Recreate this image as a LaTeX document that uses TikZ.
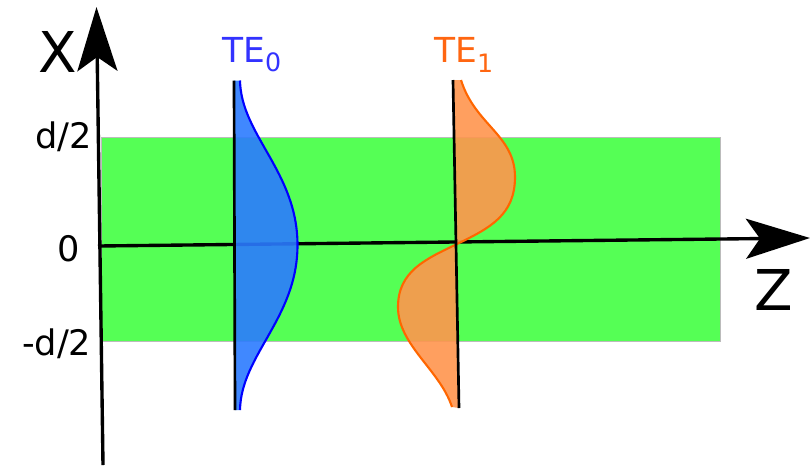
\documentclass[tikz,border=0pt]{standalone}
\usepackage{fontspec}
\setmainfont{DejaVu Sans}
\usetikzlibrary{arrows.meta}
\definecolor{core}{HTML}{55FF55}
\definecolor{coreedge}{HTML}{BBBBBB}
\definecolor{zerofill}{HTML}{2B7BFF}
\definecolor{zeroline}{HTML}{0000FF}
\definecolor{zerotext}{HTML}{3333FF}
\definecolor{onefill}{HTML}{FF954E}
\definecolor{oneline}{HTML}{FF6600}
\definecolor{onetext}{HTML}{FF6611}
\tikzset{
  axis/.style={line width=2.4pt, draw=black,
               -{Stealth[length=1.6cm, width=1.0cm, inset=0.35cm]}},
  guide/.style={line width=1.9pt, draw=black},
  slab/.style={fill=core, draw=coreedge, line width=0.4pt},
  profile/.style={line width=1.5pt, fill opacity=0.9},
  tick/.style={inner sep=0pt, font=\fontsize{25}{30}\selectfont, text=black},
  axlabel/.style={inner sep=0pt, font=\fontsize{40}{42}\selectfont, text=black},
  modelbl/.style={inner sep=0pt, font=\fontsize{24.5}{28}\selectfont},
}
\newcommand{\modename}[1]{TE\raisebox{-7pt}{\fontsize{18}{18}\selectfont #1}}

\begin{document}
\begin{tikzpicture}[x=0.025cm, y=-0.025cm]
  \useasboundingbox (0,0) rectangle (810,470);

  % guiding layer
  \draw[slab] (101,137) rectangle (720,341);

  % axes
  \coordinate (xbot) at (103,465);
  \coordinate (xtop) at (96.5,7);
  \coordinate (zleft) at (98,246);
  \coordinate (zright) at (810,238);
  \draw[axis] (zleft) -- (zright);
  \draw[axis] (xbot) -- (xtop);

  % fundamental mode
  \coordinate (a0) at (234,80.5);
  \coordinate (b0) at (235,410);
  \fill[zerofill, fill opacity=0.9]
    (a0) -- (240,80.5) .. controls (241,135) and (297.5,172) .. (297.5,245)
    .. controls (297.5,318) and (241,355) .. (240,410) -- (b0) -- cycle;
  \draw[profile, draw=zeroline]
    (240,80.5) .. controls (241,135) and (297.5,172) .. (297.5,245)
    .. controls (297.5,318) and (241,355) .. (240,410);
  \draw[guide] (a0) -- (b0);

  % first order mode
  \coordinate (a1) at (453,80);
  \coordinate (b1) at (459,408);
  \fill[onefill, fill opacity=0.9]
    (a1) -- (461,80) .. controls (475,125) and (515,135) .. (515,177)
    .. controls (515,215) and (490,228) .. (457,244)
    .. controls (426,259) and (398,271) .. (398,307)
    .. controls (398,345) and (440,370) .. (452,407) -- (b1) -- cycle;
  \draw[profile, draw=oneline]
    (461,80) .. controls (475,125) and (515,135) .. (515,177)
    .. controls (515,215) and (490,228) .. (457,244)
    .. controls (426,259) and (398,271) .. (398,307)
    .. controls (398,345) and (440,370) .. (452,407);
  \draw[guide] (a1) -- (b1);

  % labels
  \node[tick, anchor=base east] (dtop) at (92,148) {d/2};
  \node[tick, anchor=base east] (zero) at (80.5,261) {0};
  \node[tick, anchor=base east] (dbot) at (91.5,355) {-d/2};
  \node[axlabel, anchor=base] (xlab) at (57.5,72) {X};
  \node[axlabel, anchor=base] (zlab) at (774,310) {Z};
  \node[modelbl, text=zerotext, anchor=base west] (te0) at (222,62) {\modename{0}};
  \node[modelbl, text=onetext, anchor=base west] (te1) at (434,62.5) {\modename{1}};
\end{tikzpicture}
\end{document}
